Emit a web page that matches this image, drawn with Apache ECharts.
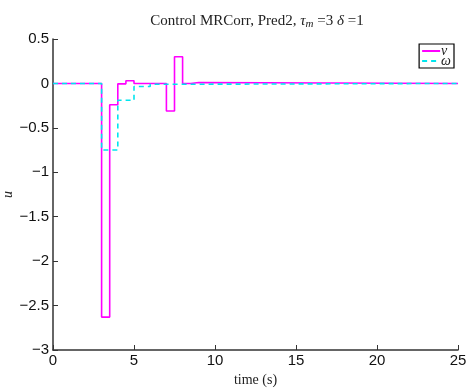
<!DOCTYPE html>
<html><head><meta charset="utf-8">
<script src="https://cdn.jsdelivr.net/npm/echarts@6/dist/echarts.min.js"></script>
<style>html,body{margin:0;padding:0;background:#fff}#c{width:472px;height:392px}</style>
</head><body><div id="c"></div>
<script>
// zero-order-hold change points
var vTimes  = [0, 3, 3.5, 4, 4.5, 5, 7, 7.5, 8, 8.5, 9, 25];
var vValues = [0, -2.63, -0.24, -0.005, 0.03, 0, -0.31, 0.30, 0, 0.01, 0, 0];
var wTimes  = [0, 3, 4, 5, 6, 7, 25];
var wValues = [0, -0.75, -0.19, -0.035, -0.01, 0, 0];
var xTicks = [0, 5, 10, 15, 20, 25];
var yTicks = [0.5, 0, -0.5, -1, -1.5, -2, -2.5, -3];

// hold each value until the next change time
function stairs(t, v){
  var out = [];
  for (var i = 0; i < t.length; i++) {
    out.push([t[i], v[i]]);
    if (i + 1 < t.length) out.push([t[i+1], v[i]]);
  }
  return out;
}
function fmt(v){ return (v < 0 ? '\u2212' + Math.abs(v) : String(v)); }

var chart = echarts.init(document.getElementById('c'), null, {renderer:'canvas'});
chart.setOption({
  animation:false,
  backgroundColor:'#fff',
  title:{
    text:'Control MRCorr, Pred2, {i|τ}{sub|m} =3 {i|δ} =1',
    left:252, top:8, textAlign:'center',
    textStyle:{
      fontFamily:'Liberation Serif', fontSize:15, fontWeight:'normal', color:'#222',
      rich:{
        i:{fontFamily:'Liberation Serif', fontStyle:'italic', fontSize:15, color:'#222'},
        sub:{fontFamily:'Liberation Serif', fontStyle:'italic', fontSize:11, color:'#222', padding:[6,0,0,0]}
      }
    }
  },
  legend:{
    orient:'vertical', right:18, top:44,
    itemWidth:18, itemHeight:6, itemGap:-4,
    padding:[0,3,0,2],
    borderColor:'#000', borderWidth:1.2,
    backgroundColor:'#fff',
    itemStyle:{opacity:0},
    textStyle:{fontFamily:'Liberation Serif', fontStyle:'italic', fontSize:14, color:'#222', padding:[0,0,0,-4]},
    data:['v', 'ω']
  },
  grid:{left:53, right:14, top:39, bottom:42, containLabel:false, outerBoundsMode:'none'},
  xAxis:{
    type:'value', min:0, max:25, interval:5,
    name:'time (s)', nameLocation:'middle', nameGap:22,
    nameTextStyle:{fontFamily:'Liberation Serif', fontSize:14, color:'#222'},
    axisLine:{onZero:false, lineStyle:{color:'#333', width:1.5}},
    axisTick:{inside:true, length:5, lineStyle:{color:'#333'}},
    axisLabel:{fontFamily:'Liberation Sans', fontSize:15, color:'#111', margin:3,
      formatter:function(v){ return xTicks.indexOf(v) >= 0 ? fmt(v) : ''; }},
    splitLine:{show:false}
  },
  yAxis:{
    type:'value', min:-3, max:0.5, interval:0.5,
    name:'u', nameLocation:'middle', nameGap:38, nameRotate:90, nameMoveOverlap:false,
    nameTextStyle:{fontFamily:'Liberation Serif', fontStyle:'italic', fontSize:14, color:'#222'},
    axisLine:{show:true, onZero:false, lineStyle:{color:'#333', width:1.5}},
    axisTick:{show:true, inside:true, length:5, lineStyle:{color:'#333'}},
    axisLabel:{fontFamily:'Liberation Sans', fontSize:15, color:'#111', margin:4,
      formatter:function(v){ return yTicks.indexOf(v) >= 0 ? fmt(v) : ''; }},
    splitLine:{show:false}
  },
  series:[
    {name:'v', type:'line', symbol:'none', data:stairs(vTimes, vValues),
     lineStyle:{color:'#ff00ff', width:1.6}, itemStyle:{color:'#ff00ff'}, z:2},
    {name:'ω', type:'line', symbol:'none', data:stairs(wTimes, wValues),
     lineStyle:{color:'#00e5ee', width:1.6, type:[5,4]}, itemStyle:{color:'#00e5ee'}, z:3}
  ]
});
</script></body></html>
